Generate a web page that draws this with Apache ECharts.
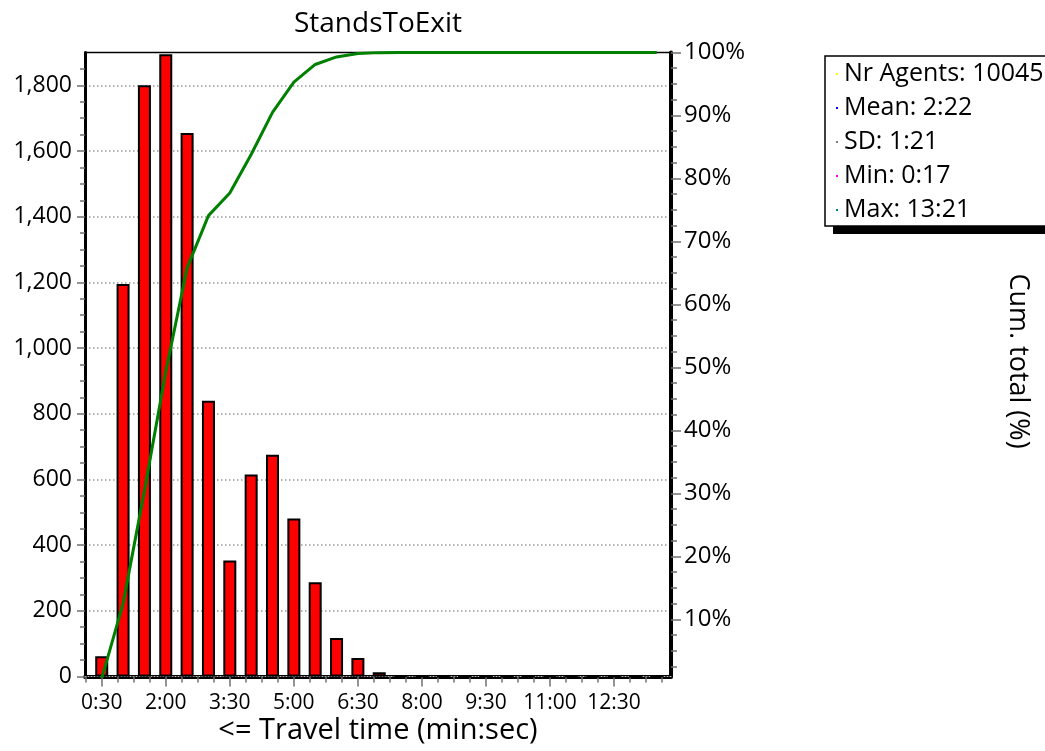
<!DOCTYPE html>
<html>
<head>
<meta charset="utf-8">
<script src="https://cdn.jsdelivr.net/npm/echarts@6/dist/echarts.min.js"></script>
<style>
html,body{margin:0;padding:0;background:#fff;}
#chart{width:1045px;height:751px;}
</style>
</head>
<body>
<div id="chart"></div>
<script>
// ---- data ----
const binSeconds = [30,60,90,120,150,180,210,240,270,300,330,360,390,420,450,480,510,540,570,600,630,660,690,720,750,780,810];
const agentCounts = [62,1195,1800,1895,1655,840,353,615,675,481,287,117,56,13,1,0,0,0,0,0,0,0,0,0,0,0,1];
const cumPercent = [0.6,12.5,30.4,49.3,65.8,74.1,77.7,83.8,90.5,95.3,98.1,99.3,99.85,99.98,99.99,99.99,99.99,99.99,99.99,99.99,99.99,99.99,99.99,99.99,99.99,99.99,100];
const xTickSeconds = [30,120,210,300,390,480,570,660,750];
const leftTickValues = [0,200,400,600,800,1000,1200,1400,1600,1800];
const rightTickValues = [10,20,30,40,50,60,70,80,90,100];
const titleText = 'StandsToExit';
const xAxisTitle = '<= Travel time (min:sec)';
const rightAxisTitle = 'Cum. total (%)';
const statLines = ['Nr Agents: 10045','Mean: 2:22','SD: 1:21','Min: 0:17','Max: 13:21'];
const statColors = ['#ffff00','#0000ff','#808080','#ff00ff','#008080'];

// ---- layout ----
const FONT = '"Open Sans", "Noto Sans", sans-serif';
const X_MIN = 6.5, X_MAX = 830;
const L_MIN = 0, L_MAX = 1900;
const R_MIN = 0.93, R_MAX = 100;
const gridL = 85, gridR = 671, gridT = 52.5, gridB = 676.5;

function mmss(s){ const m = Math.floor(s/60), r = Math.round(s%60); return m + ':' + (r<10?'0':'') + r; }
function steps(a, b, st, exclStep){ const out=[]; for(let v=a; v<=b+1e-9; v+=st){ const vv=Math.round(v*1000)/1000; if(exclStep && Math.abs(vv/exclStep - Math.round(vv/exclStep))<1e-6) continue; out.push(vv);} return out; }

const xMinor = steps(7.5, 817.5, 22.5).filter(v => xTickSeconds.indexOf(v) < 0);
const leftMinor = steps(50, 1850, 50, 200);
const rightMinor = steps(2.5, 97.5, 2.5, 10);

const chart = echarts.init(document.getElementById('chart'), null, {renderer:'canvas'});

const grid = {left: gridL, right: 1045 - gridR, top: gridT, bottom: 751 - gridB, show: true, borderColor: '#000', borderWidth: 1.5, backgroundColor: '#fff', containLabel: false};

const tickGray = '#707070';

const option = {
  animation: false,
  backgroundColor: '#fff',
  grid: grid,
  xAxis: [
    { type: 'value', min: X_MIN, max: X_MAX, position: 'bottom',
      axisLine: {show: true, lineStyle: {color: '#000', width: 4}},
      axisTick: {show: true, length: 10, lineStyle: {color: tickGray, width: 1.5}, customValues: xTickSeconds},
      axisLabel: {show: true, customValues: xTickSeconds, formatter: v => mmss(v), fontFamily: FONT, fontSize: 21, color: '#000', margin: 16},
      splitLine: {show: false} },
    { type: 'value', min: X_MIN, max: X_MAX, position: 'bottom',
      axisLine: {show: false},
      axisTick: {show: true, length: 6, lineStyle: {color: tickGray, width: 1.5}, customValues: xMinor},
      axisLabel: {show: false}, splitLine: {show: false} },
    { type: 'value', min: X_MIN, max: X_MAX, position: 'bottom', offset: 0,
      axisLine: {show: true, lineStyle: {color: '#bbb', width: 1, type: [1, 2]}},
      axisTick: {show: false}, axisLabel: {show: false}, splitLine: {show: false} }
  ],
  yAxis: [
    { type: 'value', min: L_MIN, max: L_MAX, interval: 200, position: 'left',
      axisLine: {show: true, lineStyle: {color: '#000', width: 3}},
      axisTick: {show: true, length: 8, lineStyle: {color: tickGray, width: 1.5}, customValues: leftTickValues},
      axisLabel: {show: true, customValues: leftTickValues, formatter: v => Number(v).toLocaleString('en-US'), fontFamily: FONT, fontSize: 23, color: '#000', margin: 13},
      splitLine: {show: true, lineStyle: {color: '#999', width: 1.5, type: [1.5, 2.5]}} },
    { type: 'value', min: L_MIN, max: L_MAX, position: 'left',
      axisLine: {show: false},
      axisTick: {show: true, length: 5, lineStyle: {color: tickGray, width: 1.5}, customValues: leftMinor},
      axisLabel: {show: false}, splitLine: {show: false} },
    { type: 'value', min: R_MIN, max: R_MAX, position: 'right',
      axisLine: {show: true, onZero: false, lineStyle: {color: '#000', width: 4}},
      axisTick: {show: true, length: 10, lineStyle: {color: tickGray, width: 1.5}, customValues: rightTickValues},
      axisLabel: {show: true, customValues: rightTickValues, formatter: v => Math.round(v) + '%', fontFamily: FONT, fontSize: 24, color: '#000', margin: 13},
      splitLine: {show: false} },
    { type: 'value', min: R_MIN, max: R_MAX, position: 'right',
      axisLine: {show: false},
      axisTick: {show: true, length: 6, lineStyle: {color: tickGray, width: 1.5}, customValues: rightMinor},
      axisLabel: {show: false}, splitLine: {show: false} }
  ],
  series: [
    { type: 'bar', xAxisIndex: 0, yAxisIndex: 0, barWidth: 13,
      data: binSeconds.map((s, i) => [s, agentCounts[i]]),
      itemStyle: {color: '#ff0000', borderColor: '#000', borderWidth: 2},
      z: 2 },
    { type: 'line', xAxisIndex: 0, yAxisIndex: 2,
      data: binSeconds.map((s, i) => [s, cumPercent[i]]),
      showSymbol: false, symbol: 'none',
      lineStyle: {color: '#008000', width: 3},
      z: 3 }
  ],
  graphic: [
    { type: 'text', x: (gridL + gridR) / 2, y: 24,
      style: {text: titleText, font: '28px ' + FONT, fill: '#000', textAlign: 'center', textVerticalAlign: 'middle'} },
    { type: 'text', x: (gridL + gridR) / 2, y: 731,
      style: {text: xAxisTitle, font: '29px ' + FONT, fill: '#000', textAlign: 'center', textVerticalAlign: 'middle'} },
    { type: 'text', x: 1018, y: 361, rotation: -Math.PI / 2,
      style: {text: rightAxisTitle, font: '27px ' + FONT, fill: '#000', textAlign: 'center', textVerticalAlign: 'middle'} },
    { type: 'rect', shape: {x: 833, y: 64, width: 240, height: 170}, style: {fill: '#000'}, z: 10 },
    { type: 'rect', shape: {x: 825, y: 56, width: 240, height: 170}, style: {fill: '#fff', stroke: '#000', lineWidth: 1.5}, z: 11 }
  ].concat(statLines.map((t, i) => ({
    type: 'text', x: 844, y: 74 + i * 34, z: 12,
    style: {text: t, font: '25px ' + FONT, fill: '#000', textAlign: 'left', textVerticalAlign: 'middle'}
  }))).concat(statLines.map((t, i) => ({
    type: 'rect', z: 12, shape: {x: 836, y: 73 + i * 34, width: 2, height: 2}, style: {fill: statColors[i]}
  })))
};
chart.setOption(option);
</script>
</body>
</html>
